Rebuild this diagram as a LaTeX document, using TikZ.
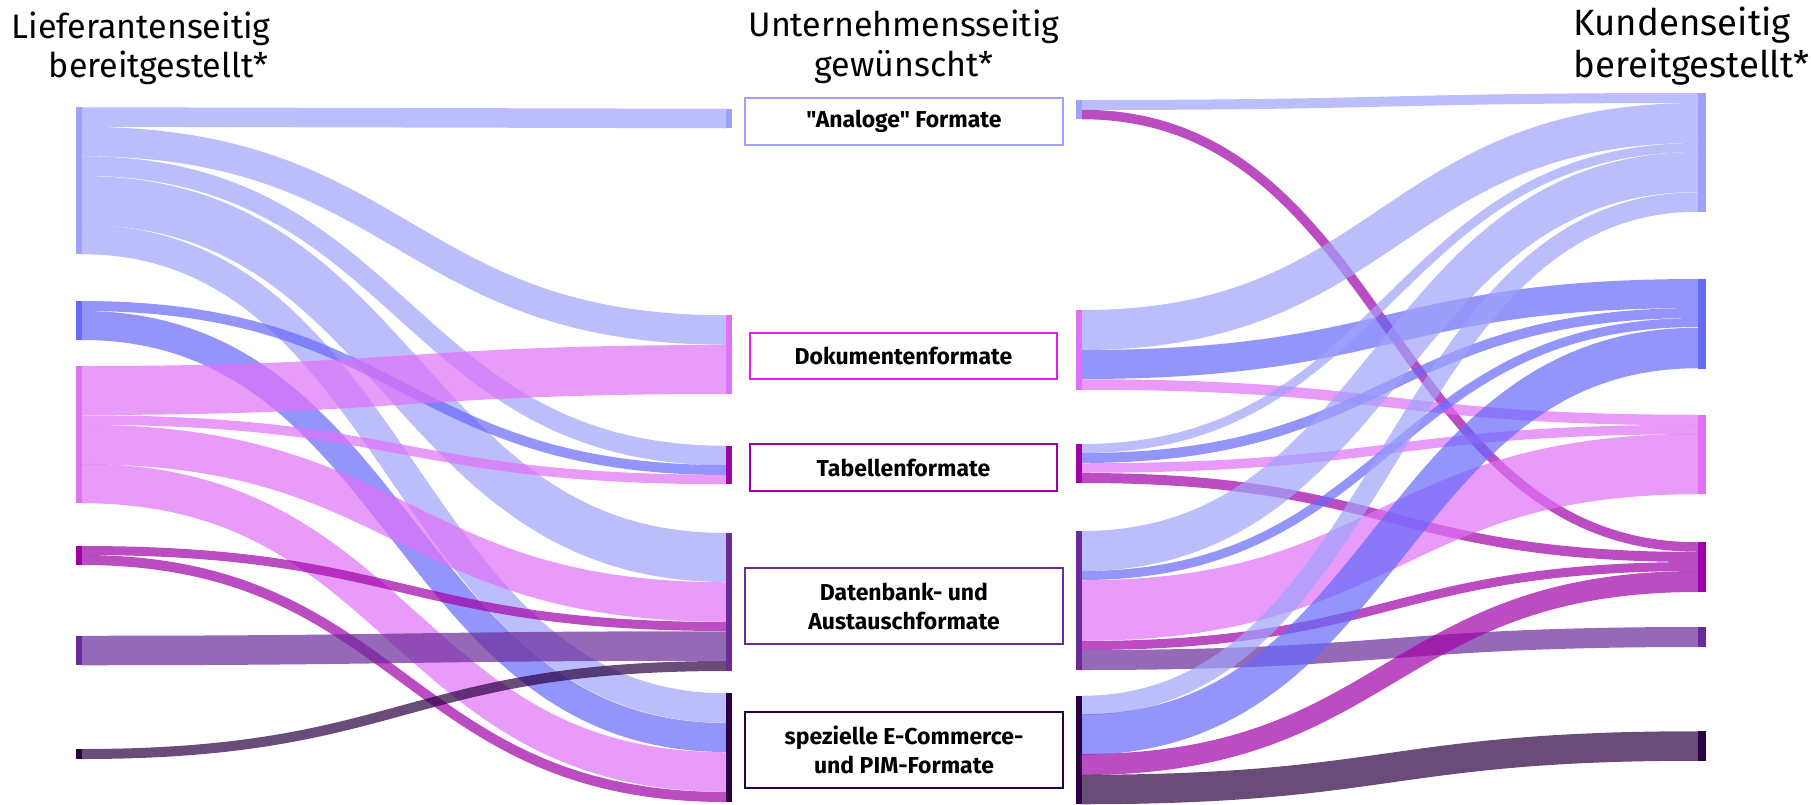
\documentclass[tikz,border=0pt]{standalone}
\usepackage{fontspec}
\setmainfont{Fira Sans}[Ligatures=TeXOff]
\usepackage{tikz}

\definecolor{lav}{RGB}{160,162,250}
\definecolor{blu}{RGB}{102,104,250}
\definecolor{pnk}{RGB}{224,112,248}
\definecolor{mag}{RGB}{160,0,168}
\definecolor{vio}{RGB}{106,42,154}
\definecolor{ink}{RGB}{42,0,66}
\definecolor{dokline}{RGB}{228,30,236}

\begin{document}
\begin{tikzpicture}[x=0.5pt, y=-0.5pt,
  head/.style={font=\fontsize{17}{20}\selectfont, inner sep=0},
  fmt/.style={draw, line width=1pt, fill=white, inner sep=0, align=center,
    font=\bfseries\fontsize{11.5}{14.5}\selectfont}]
\useasboundingbox (0,0) rectangle (1811,804);
% left half: supplier -> company
\foreach \col/\ya/\yb/\za/\zb in {lav/107/127/109/128, lav/127/156/315/345, lav/156/176/446/465, lav/176/225/533/582, lav/225/254/693/723,
  blu/301/311/465/475, blu/311/340/723/752,
  pnk/366/415/345/394, pnk/415/425/475/484, pnk/425/464/582/622, pnk/464/503/752/792,
  mag/546/555/622/631, mag/555/565/792/802, vio/636/665/631/661, ink/749/759/661/671} {
  \pgfmathsetmacro{\ym}{(\ya+\yb)/2}
  \pgfmathsetmacro{\zm}{(\za+\zb)/2}
  \pgfmathsetmacro{\lw}{(\yb-\ya+\zb-\za)/4}
  \draw[draw=\col, draw opacity=.7, line width=\lw pt] (82,\ym) .. controls (404,\ym) and (404,\zm) .. (726,\zm);
}
% right half: company -> customer
\foreach \col/\ya/\yb/\za/\zb in {lav/100/110/93/103, mag/110/119/542/552,
  lav/310/350/103/143, blu/350/379/279/308, pnk/379/390/415/425,
  lav/444/453/143/152, blu/453/463/308/318, pnk/463/473/425/434, mag/473/483/552/562,
  lav/531/571/152/192, blu/571/580/318/327, pnk/580/641/434/494, mag/641/650/562/571, vio/650/670/627/647,
  lav/696/715/192/212, blu/715/754/327/369, mag/754/775/571/592, ink/775/804/731/761} {
  \pgfmathsetmacro{\ym}{(\ya+\yb)/2}
  \pgfmathsetmacro{\zm}{(\za+\zb)/2}
  \pgfmathsetmacro{\lw}{(\yb-\ya+\zb-\za)/4}
  \draw[draw=\col, draw opacity=.7, line width=\lw pt] (1082,\ym) .. controls (1390,\ym) and (1390,\zm) .. (1698,\zm);
}
% node bars
\foreach \col/\ya/\yb in {lav/107/254, blu/301/340, pnk/366/503, mag/546/565, vio/636/665, ink/749/759}
  \fill[\col] (76,\ya) rectangle (82,\yb);
\foreach \col/\ya/\yb in {lav/109/128, pnk/315/394, mag/446/484, vio/533/671, ink/693/802}
  \fill[\col] (726,\ya) rectangle (732,\yb);
\foreach \col/\ya/\yb in {lav/100/119, pnk/310/390, mag/444/483, vio/531/670, ink/696/804}
  \fill[\col] (1076,\ya) rectangle (1082,\yb);
\foreach \col/\ya/\yb in {lav/93/212, blu/279/369, pnk/415/494, mag/542/592, vio/627/647, ink/731/761}
  \fill[\col] (1698,\ya) rectangle (1706,\yb);
% format boxes
\node[fmt, draw=lav, minimum width=159pt, minimum height=23.5pt] (analog) at (904,121.5) {"Analoge" Formate};
\node[fmt, draw=dokline, minimum width=153.5pt, minimum height=23pt] (dok) at (903.5,356) {Dokumentenformate};
\node[fmt, draw=mag, minimum width=153.5pt, minimum height=23.5pt] (tab) at (903.5,467.5) {Tabellenformate};
\node[fmt, draw=vio, minimum width=159pt, minimum height=38pt] (dat) at (904,606) {Datenbank- und\\Austauschformate};
\node[fmt, draw=ink, minimum width=159pt, minimum height=38pt] (spez) at (904,750) {spezielle E-Commerce-\\und PIM-Formate};
% column heads
\node[head, anchor=base east] (liefA) at (271,38) {Lieferantenseitig};
\node[head, anchor=base east] (liefB) at (269,77) {bereitgestellt*};
\node[head, anchor=base] (untA) at (904,36) {Unternehmensseitig};
\node[head, anchor=base] (untB) at (904,76) {gewünscht*};
\node[head, anchor=base west, font=\fontsize{18.3}{21}\selectfont] (kundA) at (1573,35) {Kundenseitig};
\node[head, anchor=base west, font=\fontsize{18.3}{21}\selectfont] (kundB) at (1573,77) {bereitgestellt*};
\end{tikzpicture}
\end{document}
